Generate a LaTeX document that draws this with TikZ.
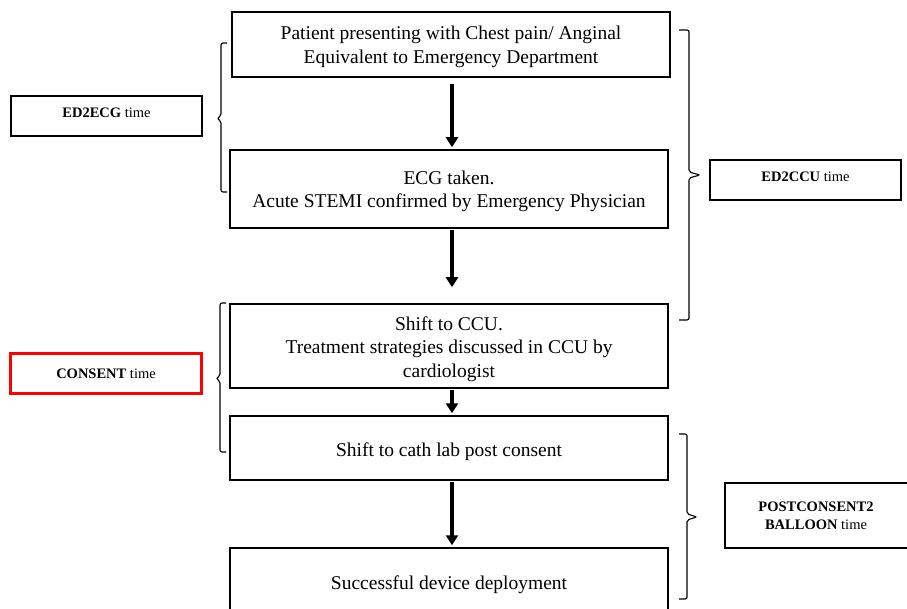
\documentclass[tikz,border=0pt]{standalone}
\usepackage{fontspec}
\setmainfont{Liberation Serif}
\usetikzlibrary{arrows.meta}
\begin{document}
\begin{tikzpicture}[x=1pt,y=-1pt,
  flowbox/.style={draw=black,line width=1.5pt,minimum width=438pt,inner sep=0pt},
  flowtext/.style={align=center,font=\fontsize{19.5}{23.5}\selectfont,inner sep=0pt},
  labbox/.style={draw=black,line width=1.4pt,minimum width=191pt,minimum height=40pt,inner sep=0pt},
  labtext/.style={align=center,font=\fontsize{14.5}{18}\selectfont,inner sep=0pt},
  flowarrow/.style={line width=3.5pt,-{Triangle[length=10pt,width=12pt]}},
  brace/.style={line width=1.1pt,rounded corners=2pt}]
\useasboundingbox (0,0) rectangle (907,609);
% main flow boxes
\node[flowbox,minimum height=65pt] (a) at (451,44.5) {};
\node[flowbox,minimum height=78pt] (b) at (449,189) {};
\node[flowbox,minimum height=84pt] (c) at (449,346) {};
\node[flowbox,minimum height=64pt] (d) at (449,448) {};
\node[flowbox,minimum height=68pt] (e) at (449,582) {};
% texts
\node[flowtext] (at) at (451,47) {Patient presenting with Chest pain/ Anginal\\Equivalent to Emergency Department};
\node[flowtext] (bt) at (449,191.5) {ECG taken.\\Acute STEMI confirmed by Emergency Physician};
\node[flowtext] (ct) at (449,349) {Shift to CCU.\\Treatment strategies discussed in CCU by\\cardiologist};
\node[flowtext] (dt) at (449,452) {Shift to cath lab post consent};
\node[flowtext] (et) at (449,584.5) {Successful device deployment};
% arrows
\draw[flowarrow,shorten <=6pt,shorten >=2pt] ([xshift=1pt]a.south) -- ([xshift=3pt]b.north);
\draw[flowarrow,shorten <=1pt,shorten >=16pt] ([xshift=3pt]b.south) -- ([xshift=3pt]c.north);
\draw[flowarrow,shorten <=1pt,shorten >=2pt] ([xshift=3pt]c.south) -- ([xshift=3pt]d.north);
\draw[flowarrow,shorten <=1pt,shorten >=2pt] ([xshift=3pt]d.south) -- ([xshift=3pt]e.north);
% label boxes
\node[labbox] (ecg) at (106.5,116) {};
\node[labbox,draw=red,line width=3pt] (cons) at (106,373) {};
\node[labbox] (ccu) at (805.5,180) {};
\node[labbox,minimum width=186pt,minimum height=65pt] (pcb) at (818,515.5) {};
\node[labtext] (ecgt) at (106.5,113) {\textbf{ED2ECG} time};
\node[labtext] (const) at (106,374) {\textbf{CONSENT} time};
\node[labtext] (ccut) at (805.5,177) {\textbf{ED2CCU} time};
\node[labtext] (pcbt) at (816,516) {\textbf{POSTCONSENT2}\\\textbf{BALLOON} time};
% braces
\draw[brace] (227,43) -- (221,43) -- (221,116) -- (217,118.5) -- (221,121) -- (221,192) -- (227,192);
\draw[brace] (226,303) -- (220,303) -- (220,376) -- (216,378.5) -- (220,381) -- (220,452) -- (226,452);
\draw[brace] (679,30) -- (689,30) -- (689,172) -- (700,175) -- (689,178) -- (689,320) -- (679,320);
\draw[brace] (679,434) -- (687,434) -- (687,514) -- (697,517) -- (687,520) -- (687,599) -- (679,599);
\end{tikzpicture}
\end{document}
